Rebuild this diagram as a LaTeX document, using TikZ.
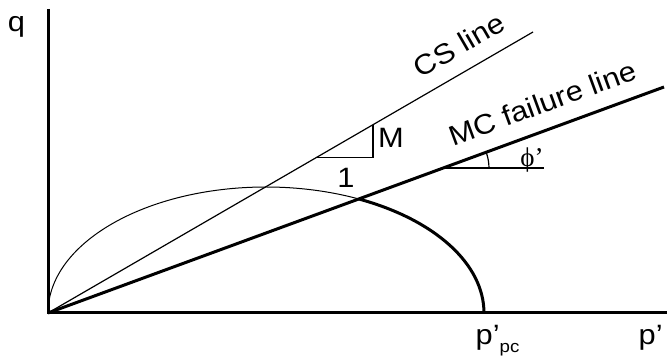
\documentclass[tikz,border=0pt]{standalone}
\usepackage{fontspec}
\setmainfont{Liberation Sans}[FakeStretch=1.1]
\newfontfamily\greekfont{Liberation Serif}
\usepackage{tikz}
\usetikzlibrary{calc}
\tikzset{
  axis/.style={line width=3pt},
  thinline/.style={line width=1.2pt},
  boldline/.style={line width=3pt},
  lbl/.style={inner sep=0pt, font=\fontsize{28}{32}\selectfont},
}

\begin{document}
\begin{tikzpicture}[x=1pt, y=1pt]
  \useasboundingbox (0,0) rectangle (667,356);
  \coordinate (O) at (48,43);
  \coordinate (qtop) at (48,347);
  \coordinate (pend) at (667,43);
  \coordinate (cs) at (533,324);
  \coordinate (mc) at (664,269);
  \coordinate (X) at (358.8,157);

  \draw[axis] (qtop) -- (O) -- (pend);
  \draw[thinline] (O) -- (cs) node[lbl, pos=0.874, sloped, above=15pt] (cslbl) {CS line};
  \draw[boldline] (O) -- (mc) node[lbl, pos=0.818, sloped, above=15pt] (mclbl) {MC failure line};
  \draw[line width=1pt] (O) arc[start angle=180, end angle=64.8, x radius=218pt, y radius=126pt];
  \draw[boldline] (X) arc[start angle=64.8, end angle=0, x radius=218pt, y radius=126pt] coordinate (ppc);

  \coordinate (ta) at ($(O)!0.5546!(cs)$);
  \coordinate (tb) at ($(O)!0.6701!(cs)$);
  \draw[thinline] (ta) -- (ta -| tb) -- (tb);

  \coordinate (ang) at ($(O)!0.6412!(mc)$);
  \coordinate (angend) at ($(ang)+(101,0)$);
  \draw[line width=1.4pt] (ang) -- (angend);
  \draw[thinline] ($(ang)+(46,0)$) arc[start angle=0, end angle=20.15, radius=46pt];

  \node[lbl] (m) at (391,218) {M};
  \node[lbl] (one) at (346,178) {1};
  \node[lbl, font=\greekfont\fontsize{27}{30}\selectfont] (phi) at (532,196) {ϕ’};
  \node[lbl] (q) at (16.5,329) {q};
  \node[lbl, anchor=base west] (ppclbl) at (475.5,11) {p’\raisebox{-7.5pt}{\fontsize{17}{17}\selectfont pc}};
  \node[lbl, anchor=base west] (plbl) at (638.5,11) {p’};
\end{tikzpicture}
\end{document}
